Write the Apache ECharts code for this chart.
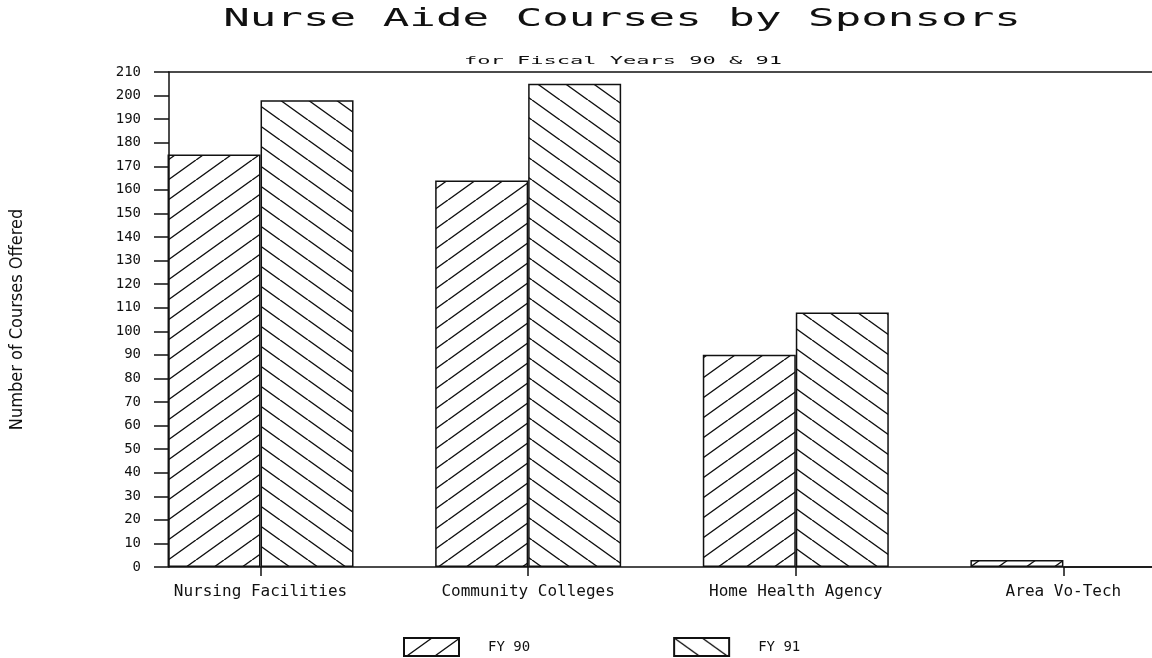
<!DOCTYPE html>
<html lang="en">
<head>
    <meta charset="UTF-8">
    <title>Nurse Aide Courses by Sponsors</title>
    <script src="https://cdn.jsdelivr.net/npm/echarts@6/dist/echarts.min.js"></script>
    <style>
        html, body { margin: 0; padding: 0; background: #fff; }
        #main { width: 1152px; height: 658px; }
    </style>
</head>
<body>
<div id="main"></div>
<script>
    // data
    var categories = ['Nursing Facilities', 'Community Colleges', 'Home Health Agency', 'Area Vo-Tech'];
    var fy90 = [175, 164, 90, 3];
    var fy91 = [198, 205, 108, 0];
    var yTicks = [0, 210, 10];   // min, max, step

    var ink = '#111';
    var mono = "'DejaVu Sans Mono', monospace";

    // hatch tile: dir 1 = "/", dir -1 = "\"
    function hatch(dir) {
        var w = 28, h = 20;
        var c = document.createElement('canvas');
        c.width = w;
        c.height = h;
        var ctx = c.getContext('2d');
        ctx.strokeStyle = ink;
        ctx.lineWidth = 1.4;
        ctx.beginPath();
        for (var k = -1; k <= 1; k++) {
            if (dir > 0) {
                ctx.moveTo(k * w, h);
                ctx.lineTo(k * w + w, 0);
            } else {
                ctx.moveTo(k * w, 0);
                ctx.lineTo(k * w + w, h);
            }
        }
        ctx.stroke();
        return c;
    }

    var catIdx = categories.map(function (c, i) { return i; });

    var myChart = echarts.init(document.getElementById('main'));
    myChart.setOption({
        animation: false,
        backgroundColor: '#fff',
        graphic: [
            {
                type: 'text', x: 622, y: 20, scaleX: 1.84,
                style: {
                    text: 'Nurse Aide Courses by Sponsors',
                    font: "24px 'DejaVu Sans Mono'",
                    fill: ink,
                    align: 'center', verticalAlign: 'middle',
                    textAlign: 'center', textVerticalAlign: 'middle'
                }
            },
            {
                type: 'text', x: 623, y: 61, scaleX: 2.0,
                style: {
                    text: 'for Fiscal Years 90 & 91',
                    font: "11px 'DejaVu Sans Mono'",
                    fill: ink,
                    align: 'center', verticalAlign: 'middle',
                    textAlign: 'center', textVerticalAlign: 'middle'
                }
            }
        ],
        legend: {
            left: 403,
            top: 637,
            padding: 0,
            itemWidth: 55,
            itemHeight: 18,
            itemGap: 143,
            icon: 'rect',
            textStyle: { fontFamily: mono, fontSize: 14, color: ink, padding: [0, 0, 0, 24] },
            data: ['FY 90', 'FY 91']
        },
        grid: { left: 165, right: 0, top: 72, bottom: 91 },
        xAxis: [
            {
                type: 'value',
                min: -0.342,
                max: 3.331,
                splitLine: { show: false },
                axisLine: { show: true, lineStyle: { color: ink, width: 1.5 } },
                axisTick: { show: true, customValues: catIdx, length: 9, lineStyle: { color: ink, width: 1.5 } },
                axisLabel: {
                    customValues: catIdx,
                    margin: 17,
                    fontFamily: mono,
                    fontSize: 16,
                    color: ink,
                    formatter: function (v) { return categories[Math.round(v)]; }
                }
            },
            {
                // frame line across the top at 210
                type: 'value',
                position: 'top',
                min: -0.342,
                max: 3.331,
                splitLine: { show: false },
                axisLine: { show: true, lineStyle: { color: ink, width: 1.5 } },
                axisTick: { show: false },
                axisLabel: { show: false }
            }
        ],
        yAxis: {
            type: 'value',
            min: yTicks[0],
            max: yTicks[1],
            interval: yTicks[2],
            name: 'Number of Courses Offered',
            nameLocation: 'middle',
            nameRotate: 90,
            nameGap: 143,
            nameTextStyle: { fontFamily: "'Liberation Sans Narrow', 'DejaVu Sans Condensed', sans-serif", fontSize: 18, color: ink },
            splitLine: { show: false },
            axisLine: { show: true, onZero: false, lineStyle: { color: ink, width: 1.5 } },
            axisTick: { show: true, length: 15, lineStyle: { color: ink, width: 1.5 } },
            axisLabel: { margin: 28, fontFamily: mono, fontSize: 14, color: ink }
        },
        series: [
            {
                name: 'FY 90',
                type: 'bar',
                barWidth: 93,
                barGap: '0%',
                data: fy90.map(function (v, i) { return [i, v]; }),
                itemStyle: { color: { image: hatch(1), repeat: 'repeat' }, borderColor: ink, borderWidth: 1.5 }
            },
            {
                name: 'FY 91',
                type: 'bar',
                barWidth: 93,
                barGap: '0%',
                data: fy91.map(function (v, i) { return [i, v]; }),
                itemStyle: { color: { image: hatch(-1), repeat: 'repeat' }, borderColor: ink, borderWidth: 1.5 }
            }
        ]
    });
</script>
</body>
</html>
